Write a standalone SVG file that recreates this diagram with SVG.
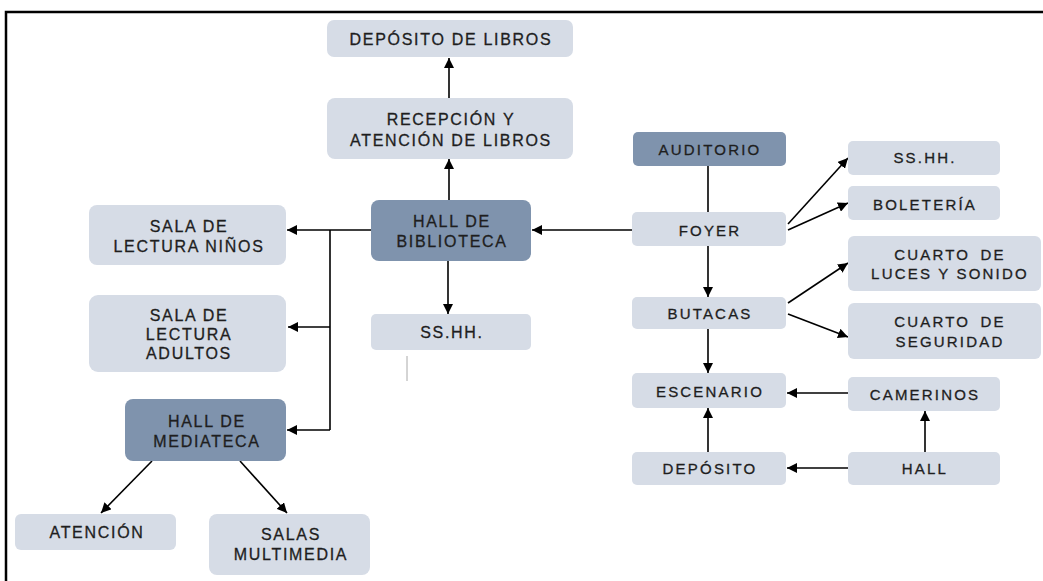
<svg xmlns="http://www.w3.org/2000/svg" width="1043" height="581" viewBox="0 0 1043 581">
<defs>
<marker id="ah" viewBox="0 0 10 10" refX="10" refY="5" markerWidth="10" markerHeight="10" markerUnits="userSpaceOnUse" orient="auto">
<path d="M0,0 L10,5 L0,10 z" fill="#000"/>
</marker>
<style>
.lt{fill:#d6dce6}
.dk{fill:#7f93ad}
text{font-family:"Liberation Sans",Arial,sans-serif;font-size:16px;letter-spacing:1.7px;fill:#1e1e1e;stroke:#1e1e1e;stroke-width:0.3;text-anchor:middle}
.r text{font-size:15px;letter-spacing:2.2px}
.c{fill:none;stroke:#000;stroke-width:1.6}
.a{marker-end:url(#ah)}
</style>
</defs>
<rect width="1043" height="581" fill="#fff"/>
<g id="frame" fill="none" stroke="#000" stroke-width="2.5">
<path d="M6,581 L6,12 L1043,12"/>
</g>
<g id="connectors">
<path class="c a" d="M449,200 L449,159"/>
<path class="c a" d="M449,98 L449,58"/>
<path class="c a" d="M632,230 L532,230"/>
<path class="c a" d="M371,230 L287,230"/>
<path class="c" d="M330,230 L330,430"/>
<path class="c a" d="M330,327 L288,327"/>
<path class="c a" d="M330,430 L287,430"/>
<path class="c a" d="M448,261 L448,314"/>
<path class="c a" d="M152,461 L101,513"/>
<path class="c a" d="M240,461 L287,513"/>
<path class="c" d="M708,166 L708,212"/>
<path class="c a" d="M708,246 L708,297"/>
<path class="c a" d="M708,329 L708,373"/>
<path class="c a" d="M788,224 L848,158"/>
<path class="c a" d="M788,230 L848,203"/>
<path class="c a" d="M788,303 L848,263"/>
<path class="c a" d="M788,314 L848,337"/>
<path class="c a" d="M848,393 L787,393"/>
<path class="c a" d="M848,468 L787,468"/>
<path class="c a" d="M708,452 L708,408"/>
<path class="c a" d="M925,452 L925,411"/>
<path d="M407,356 L407,381" stroke="#aaa" stroke-width="1"/>
</g>
<g id="deposito-libros"><rect class="lt" x="327" y="20" width="246" height="37" rx="7"/><text x="451" y="45">DEPÓSITO DE LIBROS</text></g>
<g id="recepcion"><rect class="lt" x="327" y="98" width="246" height="61" rx="8"/><text x="451" y="125">RECEPCIÓN Y</text><text x="451" y="146">ATENCIÓN DE LIBROS</text></g>
<g id="hall-biblioteca"><rect class="dk" x="371" y="200" width="160" height="61" rx="8"/><text x="452" y="227">HALL DE</text><text x="452" y="247">BIBLIOTECA</text></g>
<g id="sala-ninos"><rect class="lt" x="89" y="205" width="197" height="60" rx="8"/><text x="189" y="232">SALA DE</text><text x="189" y="252">LECTURA NIÑOS</text></g>
<g id="sala-adultos"><rect class="lt" x="89" y="295" width="197" height="77" rx="9"/><text x="189" y="321">SALA DE</text><text x="189" y="340">LECTURA</text><text x="189" y="359">ADULTOS</text></g>
<g id="sshh-biblioteca"><rect class="lt" x="371" y="314" width="160" height="36" rx="5"/><text x="452" y="338">SS.HH.</text></g>
<g id="hall-mediateca"><rect class="dk" x="125" y="399" width="161" height="62" rx="8"/><text x="207" y="427">HALL DE</text><text x="207" y="447">MEDIATECA</text></g>
<g id="atencion"><rect class="lt" x="15" y="514" width="161" height="36" rx="6"/><text x="97" y="538">ATENCIÓN</text></g>
<g id="salas-multimedia"><rect class="lt" x="209" y="514" width="161" height="61" rx="8"/><text x="291" y="540">SALAS</text><text x="291" y="560">MULTIMEDIA</text></g>
<g class="r">
<g id="auditorio"><rect class="dk" x="633" y="132" width="153" height="34" rx="5"/><text x="710" y="155">AUDITORIO</text></g>
<g id="foyer"><rect class="lt" x="632" y="212" width="154" height="34" rx="5"/><text x="710" y="236">FOYER</text></g>
<g id="butacas"><rect class="lt" x="632" y="297" width="154" height="32" rx="5"/><text x="710" y="319">BUTACAS</text></g>
<g id="escenario"><rect class="lt" x="632" y="373" width="154" height="35" rx="5"/><text x="710" y="397">ESCENARIO</text></g>
<g id="deposito"><rect class="lt" x="632" y="452" width="154" height="33" rx="5"/><text x="710" y="474">DEPÓSITO</text></g>
<g id="sshh-auditorio"><rect class="lt" x="848" y="141" width="152" height="34" rx="5"/><text x="925" y="163">SS.HH.</text></g>
<g id="boleteria"><rect class="lt" x="848" y="186" width="152" height="34" rx="5"/><text x="925" y="210">BOLETERÍA</text></g>
<g id="cuarto-luces"><rect class="lt" x="848" y="236" width="193" height="55" rx="6"/><text x="950" y="260" style="word-spacing:4px">CUARTO DE</text><text x="950" y="279">LUCES Y SONIDO</text></g>
<g id="cuarto-seguridad"><rect class="lt" x="848" y="303" width="193" height="56" rx="6"/><text x="950" y="327" style="word-spacing:4px">CUARTO DE</text><text x="950" y="347">SEGURIDAD</text></g>
<g id="camerinos"><rect class="lt" x="848" y="377" width="152" height="34" rx="5"/><text x="925" y="400">CAMERINOS</text></g>
<g id="hall"><rect class="lt" x="848" y="452" width="152" height="33" rx="5"/><text x="925" y="474">HALL</text></g>
</g>
</svg>
